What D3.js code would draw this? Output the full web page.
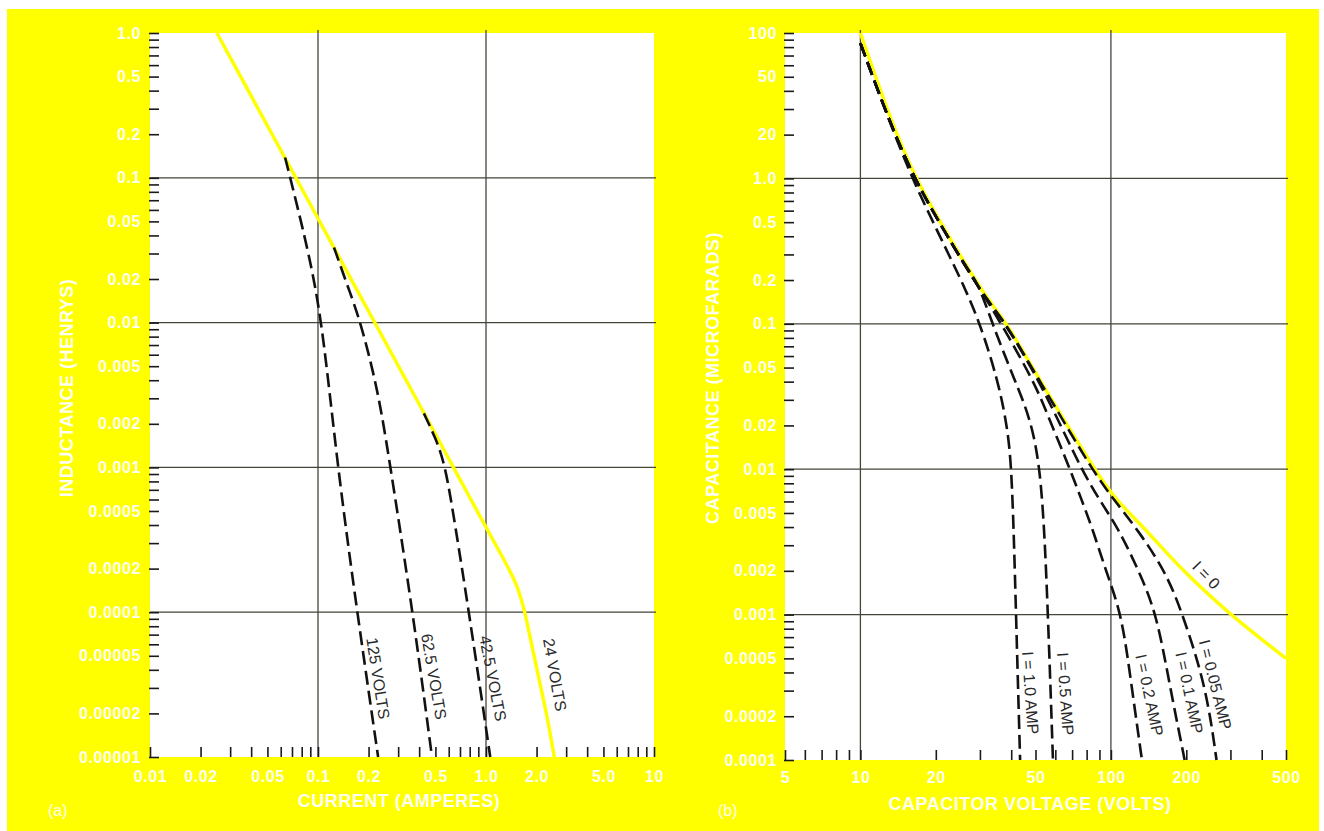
<!DOCTYPE html>
<html>
<head>
<meta charset="utf-8">
<script src="https://cdn.jsdelivr.net/npm/d3@7/dist/d3.min.js"></script>
<style>
  body { margin: 0; background: #fff; }
  svg { display: block; }
</style>
</head>
<body>
<div id="chart"></div>
<script>
// ---- panel (a) : inductance vs current ----
var currentTicks = [0.01, 0.02, 0.05, 0.1, 0.2, 0.5, 1, 2, 5, 10]
var currentLabels = ["0.01", "0.02", "0.05", "0.1", "0.2", "0.5", "1.0", "2.0", "5.0", "10"]
var inductTicks = [1, 0.5, 0.2, 0.1, 0.05, 0.02, 0.01, 0.005, 0.002, 0.001, 0.0005, 0.0002, 0.0001, 0.00005, 0.00002, 0.00001]
var inductLabels = ["1.0", "0.5", "0.2", "0.1", "0.05", "0.02", "0.01", "0.005", "0.002", "0.001", "0.0005", "0.0002", "0.0001", "0.00005", "0.00002", "0.00001"]
var gridCurrent = [0.1, 1]
var gridInduct = [0.1, 0.01, 0.001, 0.0001]

// 24 volts (solid yellow)
var amps24 = [0.025, 0.1, 0.42, 1.0, 1.26, 1.53, 1.71, 1.9, 2.3, 2.55]
var henry24 = [1.0, 0.0525, 0.00247, 0.000384, 0.000238, 0.000157, 0.0001, 0.000054, 0.00002, 0.00001]
// dashed curves
var amps125 = [0.0637, 0.075, 0.088, 0.1056, 0.13, 0.171, 0.228]
var henry125 = [0.138, 0.065, 0.03, 0.0104, 0.00106, 0.0001, 0.00001]
var amps625 = [0.1245, 0.151, 0.178, 0.228, 0.268, 0.367, 0.477]
var henry625 = [0.033, 0.0175, 0.0104, 0.0034, 0.00106, 0.0001, 0.00001]
var amps425 = [0.427, 0.50, 0.57, 0.653, 0.792, 1.06]
var henry425 = [0.00236, 0.0016, 0.00106, 0.00041, 0.0001, 0.00001]

var voltLabels = ["125 VOLTS", "62.5 VOLTS", "42.5 VOLTS", "24 VOLTS"]
var voltLabelAt = [[0.228, 0.000035], [0.49, 0.000036], [1.10, 0.000035], [2.57, 0.000037]]

// ---- panel (b) : capacitance vs capacitor voltage ----
var voltTicks = [5, 10, 20, 50, 100, 200, 500]
var voltTickLabels = ["5", "10", "20", "50", "100", "200", "500"]
var capTicks = [10, 5, 2, 1, 0.5, 0.2, 0.1, 0.05, 0.02, 0.01, 0.005, 0.002, 0.001, 0.0005, 0.0002, 0.0001]
var capLabels = ["100", "50", "20", "1.0", "0.5", "0.2", "0.1", "0.05", "0.02", "0.01", "0.005", "0.002", "0.001", "0.0005", "0.0002", "0.0001"]
var gridVolt = [10, 100]
var gridCap = [1, 0.1, 0.01, 0.001]

// I = 0 (solid yellow)
var voltI0 = [10, 13.2, 16.6, 20.8, 26.5, 32, 38.5, 50, 61, 86, 103, 139, 188, 298, 500]
var capI0 = [10, 2.5, 1.0, 0.5, 0.25, 0.15, 0.1, 0.046, 0.026, 0.01, 0.0063, 0.0038, 0.0021, 0.001, 0.0005]
// dashed curves
var voltI10 = [10, 13.0, 16.1, 19.0, 22.1, 25.6, 30.1, 35.5, 38.5, 40.3, 41.8, 43.4]
var capI10 = [8.5, 2.5, 1.0, 0.55, 0.32, 0.19, 0.1, 0.04, 0.02, 0.01, 0.001, 0.0001]
var voltI05 = [10, 13.0, 16.4, 20.6, 26.2, 29.6, 33.6, 41.5, 47, 53, 56.1, 58.7]
var capI05 = [8.5, 2.5, 1.0, 0.5, 0.25, 0.19, 0.1, 0.04, 0.024, 0.01, 0.001, 0.0001]
var voltI02 = [10, 13.0, 16.4, 20.6, 26.2, 31.6, 36.5, 49.7, 55.5, 68.7, 76.4, 84.8, 96.2, 110.6, 121, 133]
var capI02 = [8.5, 2.5, 1.0, 0.5, 0.25, 0.15, 0.1, 0.039, 0.0243, 0.01, 0.00614, 0.00382, 0.00192, 0.001, 0.00032, 0.0001]
var voltI01 = [10, 13.0, 16.4, 20.6, 26.2, 31.6, 38.0, 49.5, 59.8, 76.2, 90, 108, 130.6, 152.5, 172, 197]
var capI01 = [8.5, 2.5, 1.0, 0.5, 0.25, 0.15, 0.1, 0.046, 0.0243, 0.01, 0.00614, 0.00382, 0.00192, 0.001, 0.00032, 0.0001]
var voltI005 = [10, 13.0, 16.4, 20.6, 26.2, 31.6, 38.2, 49.7, 60.5, 84, 101, 130, 166.7, 193.6, 240, 264]
var capI005 = [8.5, 2.5, 1.0, 0.5, 0.25, 0.15, 0.1, 0.046, 0.026, 0.01, 0.0064, 0.0037, 0.00192, 0.001, 0.00032, 0.0001]

var ampLabels = ["I = 1.0 AMP", "I = 0.5 AMP", "I = 0.2 AMP", "I = 0.1 AMP", "I = 0.05 AMP", "I = 0"]
var ampLabelAt = [[47.7, 0.00029], [65.8, 0.000285], [142.5, 0.00028], [205.6, 0.00029], [261, 0.00033], [240, 0.00187]]


var YELLOW = "#ffff00",
    TEXT_WHITE = "#fffff4",
    FONT = "'Liberation Sans', Arial, Helvetica, sans-serif"

var svg = d3.select("#chart")
    .append("svg")
    .attr("width", 1324)
    .attr("height", 831)

svg.append("rect")
    .attr("x", 7).attr("y", 9)
    .attr("width", 1312).attr("height", 822)
    .attr("fill", YELLOW)

function drawPanel(p) {
    var x = d3.scaleLog().domain(p.xDomain).range([p.left, p.right]),
        y = d3.scaleLog().domain(p.yDomain).range([p.bottom, p.top])

    svg.append("rect")
        .attr("x", p.left).attr("y", p.top)
        .attr("width", p.right - p.left).attr("height", p.bottom - p.top)
        .attr("fill", "#fff")

    var grid = svg.append("g").attr("stroke", "#45453a").attr("stroke-width", 1.3)
    grid.selectAll(".gx").data(p.gridX).enter().append("line")
        .attr("x1", function (d) { return x(d) }).attr("x2", function (d) { return x(d) })
        .attr("y1", p.top - 3).attr("y2", p.bottom)
    grid.selectAll(".gy").data(p.gridY).enter().append("line")
        .attr("x1", p.left).attr("x2", p.right + 2)
        .attr("y1", function (d) { return y(d) }).attr("y2", function (d) { return y(d) })

    // minor ticks, pointing into the plot
    var minorY = svg.append("g")
        .attr("transform", "translate(" + (p.left - 1) + ",0)")
        .call(d3.axisLeft(y).tickValues(y.ticks()).tickSize(-10).tickSizeOuter(0).tickFormat(""))
    var minorX = svg.append("g")
        .attr("transform", "translate(0," + p.bottom + ")")
        .call(d3.axisBottom(x).tickValues(x.ticks()).tickSize(-10).tickSizeOuter(0).tickFormat(""))
    ;[minorY, minorX].forEach(function (g) {
        g.select(".domain").remove()
        g.selectAll("line").attr("stroke", "#1a1a1a").attr("stroke-width", 1.6)
    })

    // tick labels
    var labY = svg.append("g")
        .attr("transform", "translate(" + p.left + ",0)")
        .call(d3.axisLeft(y).tickValues(p.yTicks).tickSize(0).tickPadding(p.yPad)
            .tickFormat(function (d, i) { return p.yLabels[i] }))
    var labX = svg.append("g")
        .attr("transform", "translate(0," + p.bottom + ")")
        .call(d3.axisBottom(x).tickValues(p.xTicks).tickSize(0).tickPadding(p.xPad)
            .tickFormat(function (d, i) { return p.xLabels[i] }))
    ;[labY, labX].forEach(function (g) {
        g.select(".domain").remove()
        g.attr("font-family", FONT).attr("font-size", 16)
        g.selectAll("text").attr("fill", TEXT_WHITE).attr("font-weight", "bold")
            .attr("letter-spacing", "0.6px")
    })

    // axis titles
    svg.append("text")
        .attr("transform", "translate(" + p.yTitleX + "," + p.yTitleY + ") rotate(-90)")
        .attr("text-anchor", "middle")
        .attr("font-family", FONT).attr("font-size", 18).attr("font-weight", "bold")
        .attr("letter-spacing", "0.5px")
        .attr("fill", TEXT_WHITE)
        .text(p.yTitle)
    svg.append("text")
        .attr("x", p.xTitleX).attr("y", p.xTitleY)
        .attr("text-anchor", "middle")
        .attr("font-family", FONT).attr("font-size", 18).attr("font-weight", "bold")
        .attr("letter-spacing", "0.5px")
        .attr("fill", TEXT_WHITE)
        .text(p.xTitle)
    svg.append("text")
        .attr("x", p.tagX).attr("y", 816)
        .attr("font-family", FONT).attr("font-size", 16)
        .attr("fill", TEXT_WHITE)
        .text(p.tag)

    var line = d3.line()
        .x(function (d) { return x(d[0]) })
        .y(function (d) { return y(d[1]) })
        .curve(d3.curveBasis)

    var curves = svg.append("g").attr("fill", "none")
    curves.append("path")
        .datum(d3.zip(p.solid[0], p.solid[1]))
        .attr("d", line)
        .attr("stroke", YELLOW)
        .attr("stroke-width", 3.5)
    p.dashed.forEach(function (s) {
        curves.append("path")
            .datum(d3.zip(s[0], s[1]))
            .attr("d", line)
            .attr("stroke", "#111")
            .attr("stroke-width", 2.6)
            .attr("stroke-dasharray", "14,6")
    })

    svg.append("g").selectAll("text")
        .data(p.curveLabels).enter().append("text")
        .attr("transform", function (d, i) {
            var at = p.curveLabelAt[i]
            return "translate(" + x(at[0]) + "," + y(at[1]) + ") rotate(" + p.curveLabelAngle[i] + ")"
        })
        .attr("text-anchor", "middle")
        .attr("dy", "0.35em")
        .attr("font-family", FONT).attr("font-size", 16)
        .attr("fill", "#2a2a2a")
        .text(function (d) { return d })
}

drawPanel({
    xDomain: [0.01, 10], yDomain: [0.00001, 1],
    left: 150, right: 654, top: 33, bottom: 757,
    gridX: gridCurrent, gridY: gridInduct,
    xTicks: currentTicks, xLabels: currentLabels, xPad: 14,
    yTicks: inductTicks, yLabels: inductLabels, yPad: 9,
    yTitle: "INDUCTANCE (HENRYS)", yTitleX: 73, yTitleY: 388,
    xTitle: "CURRENT (AMPERES)", xTitleX: 399, xTitleY: 807,
    tag: "(a)", tagX: 48,
    solid: [amps24, henry24],
    dashed: [[amps125, henry125], [amps625, henry625], [amps425, henry425]],
    curveLabels: voltLabels, curveLabelAt: voltLabelAt,
    curveLabelAngle: [81, 80, 79, 80]
})

drawPanel({
    xDomain: [5, 500], yDomain: [0.0001, 10],
    left: 785, right: 1286, top: 33, bottom: 760,
    gridX: gridVolt, gridY: gridCap,
    xTicks: voltTicks, xLabels: voltTickLabels, xPad: 12,
    yTicks: capTicks, yLabels: capLabels, yPad: 8,
    yTitle: "CAPACITANCE (MICROFARADS)", yTitleX: 719, yTitleY: 378,
    xTitle: "CAPACITOR VOLTAGE (VOLTS)", xTitleX: 1030, xTitleY: 810,
    tag: "(b)", tagX: 718,
    solid: [voltI0, capI0],
    dashed: [[voltI10, capI10], [voltI05, capI05], [voltI02, capI02], [voltI01, capI01], [voltI005, capI005]],
    curveLabels: ampLabels, curveLabelAt: ampLabelAt,
    curveLabelAngle: [86, 86, 78, 78, 76, 46]
})
</script>
</body>
</html>
